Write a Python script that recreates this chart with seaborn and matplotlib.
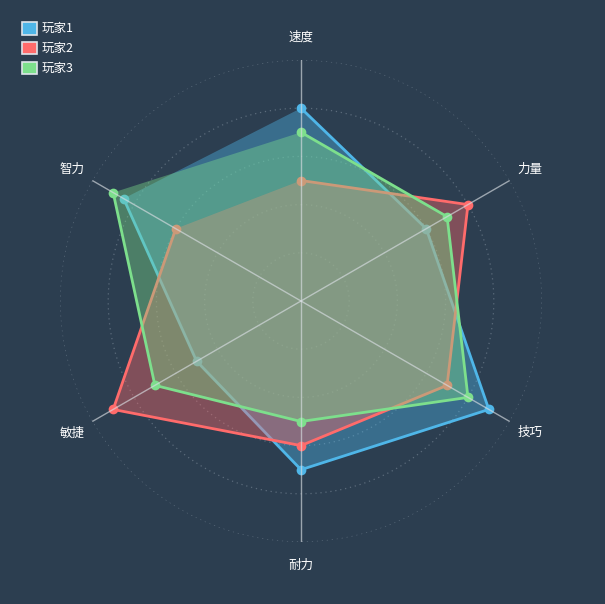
import numpy as np
import pandas as pd
import matplotlib
matplotlib.use("Agg")
import matplotlib.pyplot as plt
from matplotlib.patches import Patch
import seaborn as sns

# data
dimensions = ['速度', '力量', '技巧', '耐力', '敏捷', '智力']
players = ['玩家1', '玩家2', '玩家3']
player1 = [80, 60, 90, 70, 50, 85]
player2 = [50, 80, 70, 60, 90, 60]
player3 = [70, 70, 80, 50, 70, 90]
colors = ['#4fb6e8', '#ff6b6b', '#7ddf8c']
max_value = 100
grid_levels = [20, 40, 60, 80, 100]

bg = '#2c3e50'

sns.set_style("white")
plt.rcParams['font.family'] = ['Noto Sans CJK SC', 'DejaVu Sans']

angles = np.linspace(0, 2 * np.pi, len(dimensions), endpoint=False)

rows = []
for name, vals in zip(players, [player1, player2, player3]):
    closed = list(vals) + [vals[0]]
    theta = list(angles) + [angles[0]]
    for i, (t, v) in enumerate(zip(theta, closed)):
        rows.append({'player': name, 'order': i, 'theta': t, 'value': v})
df = pd.DataFrame(rows)

fig = plt.figure(figsize=(6.05, 6.04), dpi=100, facecolor=bg)
ax = fig.add_axes([60 / 605, 62 / 604, 482 / 605, 482 / 604], projection='polar')
ax.set_facecolor(bg)
ax.set_theta_offset(np.pi / 2)
ax.set_theta_direction(-1)
ax.set_ylim(0, max_value)
ax.grid(False)
ax.spines['polar'].set_visible(False)
ax.set_xticks([])
ax.set_yticks([])

# dotted rings
ring_t = np.linspace(0, 2 * np.pi, 400)
for lv in grid_levels:
    ax.plot(ring_t, np.full_like(ring_t, lv), color='#5b6b7b',
            linestyle=(0, (1, 3)), linewidth=0.9, zorder=1)

# series: fill then line + markers, one after the other
for k, (name, col) in enumerate(zip(players, colors)):
    sub = df[df['player'] == name].sort_values('order')
    ax.fill(sub['theta'], sub['value'], color=col, alpha=0.4,
            linewidth=0, zorder=2 + k * 2)
    sns.lineplot(data=sub, x='theta', y='value', sort=False, ax=ax,
                 color=col, linewidth=2, marker='o', markersize=7,
                 markeredgewidth=0, zorder=3 + k * 2, legend=False)

# spokes and labels
for a, lab in zip(angles, dimensions):
    ax.plot([a, a], [0, max_value], color='#d8dde2', alpha=0.65,
            linewidth=1, zorder=9)
    ax.text(a, 109.5, lab, color='white', fontsize=9,
            ha='center', va='center', zorder=10)

ax.set_xlabel('')
ax.set_ylabel('')

handles = [Patch(facecolor=c, edgecolor='#dfe4ea', linewidth=1.2) for c in colors]
leg = fig.legend(handles, players, loc='upper left',
                 bbox_to_anchor=(18 / 605, 1 - 18 / 604), frameon=False,
                 fontsize=9, labelcolor='white', handlelength=1.2,
                 handleheight=1.2, handletextpad=0.4, labelspacing=0.5,
                 borderaxespad=0, borderpad=0.3)

fig.savefig('out.png', dpi=100, facecolor=bg)
